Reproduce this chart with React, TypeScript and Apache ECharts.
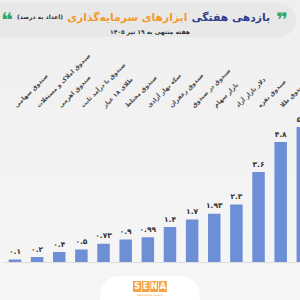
import React, { useEffect, useRef } from "react";
import * as echarts from "echarts";

const categories = [
  "صندوق سهامی",
  "صندوق املاک و مستغلات",
  "صندوق اهرمی",
  "صندوق با درآمد ثابت",
  "طلای ۱۸ عیار",
  "صندوق مختلط",
  "سکه بهار آزادی",
  "صندوق زعفران",
  "صندوق در صندوق",
  "بازار سهام",
  "دلار بازار آزاد",
  "صندوق نقره",
  "صندوق طلا",
  "صندوق کالایی",
];
const values = [0.1, 0.2, 0.4, 0.5, 0.73, 0.9, 0.99, 1.4, 1.7, 1.93, 2.3, 3.6, 4.8, 5.4];

const titleBlue = "بازدهی هفتگی";
const titleOrange = "ابزارهای سرمایه‌گذاری";
const titleNote = "(اعداد به درصد)";
const subtitle = "هفته منتهی به ۱۹ تیر ۱۴۰۵";

const faDigits = "۰۱۲۳۴۵۶۷۸۹";
const toFa = (v: number) => String(v).replace(/\d/g, (d) => faDigits[Number(d)]);

const FONT = "DejaVu Sans";

function measure(text: string, size: number) {
  const c = document.createElement("canvas").getContext("2d");
  if (!c) return text.length * size * 0.5;
  c.font = `bold ${size}px "${FONT}"`;
  return c.measureText(text).width;
}

export default function App() {
  const ref = useRef<HTMLDivElement>(null);
  useEffect(() => {
    if (!ref.current) return;
    const chart = echarts.init(ref.current, null, { renderer: "svg" });
    const logoLetters = ["S", "E", "N", "A"];

    const noteSize = 6;
    const noteW = measure(titleNote, noteSize);
    const base = 13;
    const wb0 = measure(titleBlue, base);
    const wo0 = measure(titleOrange, base);
    const blueRight = 270;
    const leftLimit = 17;
    const avail = blueRight - leftLimit - noteW - 8;
    const s = Math.min(1, avail / (wb0 + wo0));
    const tSize = base * s;
    const wb = wb0 * s;
    const wo = wo0 * s;
    const orangeRight = blueRight - wb - 4;
    const noteRight = orangeRight - wo - 4;

    chart.setOption({
      animation: false,
      backgroundColor: {
        type: "linear",
        x: 0, y: 0, x2: 0, y2: 1,
        colorStops: [
          { offset: 0, color: "#efefef" },
          { offset: 1, color: "#f6f6f6" },
        ],
      },
      textStyle: { fontFamily: FONT },
      grid: { left: 3.9, width: 310, top: 112, height: 150, containLabel: false, outerBoundsMode: "none" },
      xAxis: [
        {
          type: "category",
          data: categories,
          position: "bottom",
          axisLine: { show: true, lineStyle: { color: "#dedede", width: 1 } },
          axisTick: { show: false },
          axisLabel: { show: false },
        },
        {
          type: "category",
          data: categories,
          position: "top",
          axisLine: { show: false },
          axisTick: { show: false },
          axisLabel: {
            show: true,
            interval: 0,
            rotate: -45,
            margin: 6,
            align: "left",
            verticalAlign: "middle",
            color: "#4a4a4a",
            fontSize: 6,
            fontWeight: "bold",
            fontFamily: FONT,
          },
        },
      ],
      yAxis: { type: "value", min: 0, max: 6, show: false, splitLine: { show: false } },
      series: [
        {
          type: "bar",
          data: values,
          barWidth: 12.5,
          itemStyle: { color: "#6c8fd6" },
          label: {
            show: true,
            position: "top",
            distance: 4,
            color: "#333",
            fontSize: 7.5,
            fontWeight: "bold",
            fontFamily: FONT,
            formatter: (p: any) => toFa(p.value),
          },
        },
      ],
      graphic: [
        {
          type: "rect",
          shape: { x: -20, y: 3, width: 316, height: 34, r: 17 },
          style: { fill: "#e8e8e8" },
          silent: true,
        },
        {
          type: "text",
          x: 288, y: 20,
          style: { text: "❞", fill: "#2ea56a", fontSize: 20, fontWeight: "bold", fontFamily: FONT, align: "right", verticalAlign: "middle" },
        },
        {
          type: "text",
          x: blueRight, y: 17,
          style: { text: titleBlue, fill: "#2e3d8a", fontSize: tSize, fontWeight: "bold", fontFamily: FONT, align: "right", verticalAlign: "middle" },
        },
        {
          type: "text",
          x: orangeRight, y: 17,
          style: { text: titleOrange, fill: "#f39a2b", fontSize: tSize, fontWeight: "bold", fontFamily: FONT, align: "right", verticalAlign: "middle" },
        },
        {
          type: "text",
          x: noteRight, y: 16,
          style: { text: titleNote, fill: "#333", fontSize: noteSize, fontWeight: "bold", fontFamily: FONT, align: "right", verticalAlign: "middle" },
        },
        {
          type: "text",
          x: 1, y: 20,
          style: { text: "❝", fill: "#2ea56a", fontSize: 20, fontWeight: "bold", fontFamily: FONT, align: "left", verticalAlign: "middle" },
        },
        {
          type: "text",
          x: 150, y: 31,
          style: { text: subtitle, fill: "#333", fontSize: 6, fontWeight: "bold", fontFamily: FONT, align: "center", verticalAlign: "middle" },
        },
        {
          type: "rect",
          shape: { x: 100, y: 276, width: 100, height: 40, r: 20 },
          style: { fill: "#ffffff" },
          silent: true,
        },
        ...logoLetters.map((l, i) => ({
          type: "rect",
          shape: { x: 133 + i * 8.6, y: 281, width: 8, height: 11 },
          style: { fill: "#f5a24c" },
        })),
        ...logoLetters.map((l, i) => ({
          type: "text",
          x: 137 + i * 8.6, y: 286.5,
          style: { text: l, fill: "#ffffff", fontSize: 8, fontWeight: "bold", fontFamily: FONT, align: "center", verticalAlign: "middle" },
        })),
        {
          type: "text",
          x: 150, y: 295,
          style: { text: "SENA NEWS AGENCY", fill: "#f5a24c", fontSize: 2.5, fontFamily: FONT, align: "center", verticalAlign: "middle" },
        },
      ],
    });
    return () => chart.dispose();
  }, []);
  return <div ref={ref} style={{ position: "fixed", left: 0, top: 0, width: 300, height: 300 }} />;
}
